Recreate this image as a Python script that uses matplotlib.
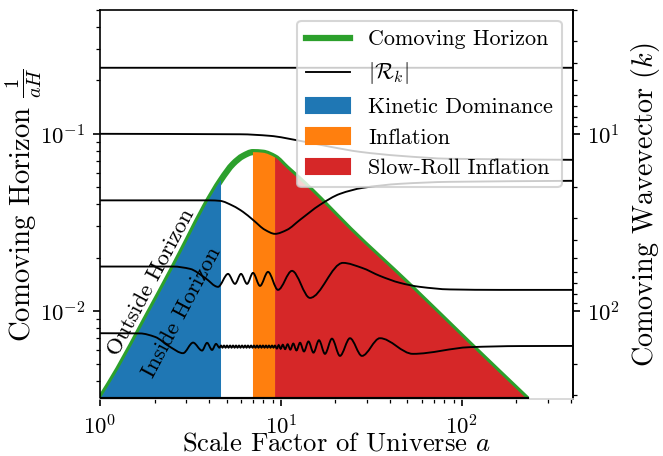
import matplotlib
matplotlib.use('Agg')
import matplotlib.pyplot as plt
import numpy as np
from matplotlib.lines import Line2D
from matplotlib.patches import Patch, PathPatch
from matplotlib.path import Path

plt.rcParams['font.family'] = 'serif'
plt.rcParams['font.serif'] = ['cmr10', 'DejaVu Serif']
plt.rcParams['mathtext.fontset'] = 'cm'
plt.rcParams['axes.formatter.use_mathtext'] = True

# comoving horizon 1/(aH) against scale factor a
horizon_a = [1.0, 1.259, 1.773, 2.512, 3.063, 3.802, 4.66, 5.43, 6.166, 7.0,
             7.943, 9.27, 10.72, 13.18, 16.43, 24.04, 50.3, 110.7, 228.6]
horizon = [0.00318, 0.00468, 0.00889, 0.01718, 0.02541, 0.0389, 0.0550, 0.0676,
           0.0750, 0.0788, 0.0782, 0.0735, 0.0641, 0.0530, 0.04266, 0.02871,
           0.01413, 0.00646, 0.00318]

# phase boundaries (in a)
kinetic_end = 4.66
inflation_start = 7.0
slowroll_start = 9.27

# |R_k| curves, one per mode
mode1_a = [1.0, 410.6]
mode1 = [0.236, 0.236]

mode2_a = [1.0, 5.94, 8.69, 12.7, 18.7, 27.3, 45.4, 85.9, 410.6]
mode2 = [0.1, 0.0994, 0.0974, 0.0913, 0.0845, 0.0791, 0.0751, 0.0723, 0.0713]

mode3_a = [1.0, 4.05, 4.60, 5.43, 6.167, 7.0, 8.16, 9.27, 10.79, 12.73, 16.43,
           21.18, 28.4, 45.4, 85.9, 410.6]
mode3 = [0.04209, 0.04209, 0.04182, 0.03919, 0.03624, 0.03266, 0.02868, 0.02723,
         0.02868, 0.03266, 0.03972, 0.04581, 0.04955, 0.05219, 0.05356, 0.05427]

mode4_a = [1.0, 2.532, 3.144, 3.803, 4.487, 5.096, 5.569, 6.012, 6.489, 7.003,
           7.655, 8.477, 9.625, 11.5, 14.46, 22.0, 28.03, 35.24, 45.44, 58.61,
           85.86, 162.2, 410.6]
mode4 = [0.0178, 0.0178, 0.01727, 0.01536, 0.01367, 0.01618, 0.01421, 0.01618,
         0.01421, 0.01639, 0.01384, 0.01661, 0.01314, 0.01683, 0.01184, 0.01867,
         0.0175, 0.01576, 0.0144, 0.01367, 0.01322, 0.01314, 0.01314]

mode5_a = [1.0, 1.663, 2.013, 2.437, 2.875, 3.265, 3.661, 3.901, 4.157, 4.375,
           4.57, 4.66, 4.75, 4.84, 4.94, 5.03, 5.13, 5.23, 5.33, 5.43, 5.54,
           5.64, 5.75, 5.86, 5.97, 6.09, 6.21, 6.33, 6.45, 6.57, 6.70, 6.83,
           6.96, 7.09, 7.23, 7.37, 7.51, 7.66, 7.80, 7.95, 8.11, 8.26, 8.42,
           8.58, 8.75, 8.92, 9.09, 9.26,
           9.49, 9.71, 9.96, 10.23, 10.54, 10.88, 11.26, 11.69, 12.18, 12.74,
           13.40, 14.19, 15.12, 16.22, 17.50, 19.13, 21.18, 24.06, 28.03,
           35.24, 53.62, 110.7, 209.1, 410.6]
mode5 = [0.00748, 0.00746, 0.00713, 0.00626, 0.00577, 0.00662, 0.00597, 0.0066,
         0.00602, 0.00651,
         0.0062, 0.00637, 0.0062, 0.00637, 0.0062, 0.00637, 0.0062, 0.00637,
         0.0062, 0.00637, 0.0062, 0.00637, 0.0062, 0.00637, 0.0062, 0.00637,
         0.0062, 0.00637, 0.0062, 0.00637, 0.0062, 0.00637, 0.0062, 0.00637,
         0.0062, 0.00637, 0.0062, 0.00637, 0.0062, 0.00637, 0.0062, 0.00637,
         0.0062, 0.00637, 0.0062, 0.00637, 0.0062, 0.00637,
         0.00613, 0.00641, 0.00611, 0.00644, 0.00608, 0.00648, 0.00604, 0.00654,
         0.00598, 0.00661, 0.0059, 0.00672, 0.00581, 0.00683, 0.00572, 0.00697,
         0.00557, 0.00701, 0.00557, 0.00701, 0.00572, 0.00624, 0.00633, 0.00634]

modes = [(mode1_a, mode1), (mode2_a, mode2), (mode3_a, mode3),
         (mode4_a, mode4), (mode5_a, mode5)]

a_lim = (1.0, 410.6)
h_lim = (0.00318, 0.5)


def slopes(xs, ys):
    # monotone cubic tangents in log-log space, flat at turning points
    u, v = np.log10(xs), np.log10(ys)
    d = np.diff(v) / np.diff(u)
    m = np.zeros_like(u)
    m[0], m[-1] = d[0], d[-1]
    for k in range(1, len(u) - 1):
        if d[k - 1] * d[k] > 0:
            m[k] = 2 / (1 / d[k - 1] + 1 / d[k])
    return u, v, m


def curve(xs, ys, i0=0, i1=None):
    u, v, m = slopes(xs, ys)
    if i1 is None:
        i1 = len(u) - 1
    verts = [(u[i0], v[i0])]
    codes = [Path.MOVETO]
    for k in range(i0, i1):
        h = u[k + 1] - u[k]
        verts += [(u[k] + h / 3, v[k] + m[k] * h / 3),
                  (u[k + 1] - h / 3, v[k + 1] - m[k + 1] * h / 3),
                  (u[k + 1], v[k + 1])]
        codes += [Path.CURVE4] * 3
    return list(10 ** np.array(verts)), codes


fig, ax = plt.subplots(figsize=(4.42, 3.04), dpi=150)
fig.subplots_adjust(left=0.151, right=0.864, bottom=0.125, top=0.978)
ax.set_xscale('log')
ax.set_yscale('log')
ax.set_xlim(*a_lim)
ax.set_ylim(*h_lim)

verts, codes = curve(horizon_a, horizon)
ax.add_patch(PathPatch(Path(verts, codes), fill=False, edgecolor='tab:green',
                       lw=3, zorder=2))

regions = [(horizon_a[0], kinetic_end, 'tab:blue'),
           (inflation_start, slowroll_start, 'tab:orange'),
           (slowroll_start, horizon_a[-1], 'tab:red')]
for lo, hi, col in regions:
    i0, i1 = horizon_a.index(lo), horizon_a.index(hi)
    verts, codes = curve(horizon_a, horizon, i0, i1)
    verts += [(hi, 1e-4), (lo, 1e-4), (lo, 1e-4)]
    codes += [Path.LINETO, Path.LINETO, Path.CLOSEPOLY]
    ax.add_patch(PathPatch(Path(verts, codes), facecolor=col, lw=0, zorder=2.5))

ax.plot([horizon_a[0], horizon_a[-1]], [h_lim[0], h_lim[0]], color='k', lw=2, zorder=3)

for xs, ys in modes:
    verts, codes = curve(xs, ys)
    ax.add_patch(PathPatch(Path(verts, codes), fill=False, edgecolor='k',
                           lw=0.9, zorder=4))

ax.text(1.913, 0.01459, 'Outside Horizon', rotation=62, ha='center', va='center',
        rotation_mode='anchor', fontsize=11, zorder=5)
ax.text(2.838, 0.00987, 'Inside Horizon', rotation=62, ha='center', va='center',
        rotation_mode='anchor', fontsize=11, zorder=5)

ax.spines['bottom'].set_color('lightgray')
ax.tick_params(labelsize=11)
ax.set_xlabel('Scale Factor of Universe $a$', fontsize=12.8, labelpad=-3)
ax.set_ylabel(r'Comoving Horizon $\frac{1}{aH}$', fontsize=13.8, labelpad=-2)


def inv(v):
    v = np.asarray(v, dtype=float)
    with np.errstate(divide='ignore'):
        return 1.0 / v


sec = ax.secondary_yaxis('right', functions=(inv, inv))
sec.tick_params(labelsize=11)
sec.set_ylabel('Comoving Wavevector $(k)$', fontsize=13.5)

handles = [Line2D([], [], color='tab:green', lw=3),
           Line2D([], [], color='k', lw=0.9),
           Patch(color='tab:blue'), Patch(color='tab:orange'), Patch(color='tab:red')]
labels = ['Comoving Horizon', r'$|\mathcal{R}_k|$', 'Kinetic Dominance',
          'Inflation', 'Slow-Roll Inflation']
leg = ax.legend(handles, labels, loc='upper right', fontsize=10.6)
leg.set_zorder(10)

fig.savefig('out.png', dpi=150)
